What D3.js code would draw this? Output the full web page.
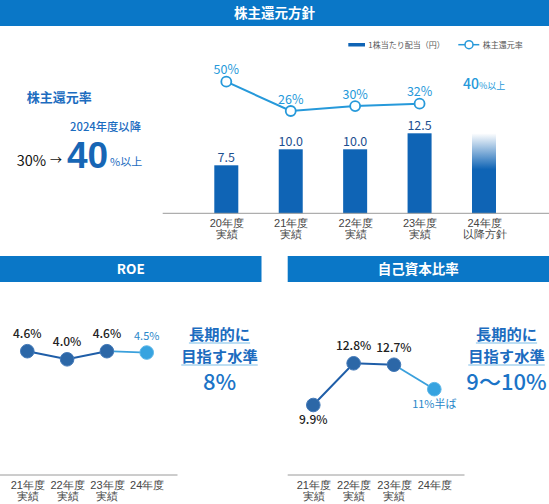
<!DOCTYPE html>
<html>
<head>
<meta charset="utf-8">
<script src="https://cdn.jsdelivr.net/npm/d3@7"></script>
<style>
body{margin:0;background:#fff;}
svg{display:block;font-family:"Noto Sans CJK JP","Noto Sans",sans-serif;}
</style>
</head>
<body>
<svg id="chart" width="549" height="504"></svg>
<script>
// data
const divYears = ["20年度", "21年度", "22年度", "23年度", "24年度"];
const divSub = ["実績", "実績", "実績", "実績", "以降方針"];
const divValues = [7.5, 10.0, 10.0, 12.5, 12.5];
const divLabels = ["7.5", "10.0", "10.0", "12.5", ""];
const payout = [50, 26, 30, 32];

const subYears = ["21年度", "22年度", "23年度", "24年度"];
const subSub = ["実績", "実績", "実績", ""];
const roeValues = [4.6, 4.0, 4.6, 4.5];
const roeLabels = ["4.6%", "4.0%", "4.6%", "4.5%"];
const equityValues = [9.9, 12.8, 12.7, 11.0];
const equityLabels = ["9.9%", "12.8%", "12.7%", "11%半ば"];

const svg = d3.select("#chart");

const banner = "#0a77c7";
const barBlue = "#0f64b5";
const lightBlue = "#2699da";
const textBlue = "#1c6cbf";

function drawBanner(x0, x1, y0, y1, label){
    svg.append("rect")
        .attr("x", x0).attr("y", y0)
        .attr("width", x1 - x0).attr("height", y1 - y0)
        .attr("fill", banner);
    svg.append("text")
        .attr("x", (x0 + x1) / 2).attr("y", (y0 + y1) / 2 + 5)
        .attr("text-anchor", "middle")
        .attr("fill", "#fff")
        .attr("font-size", 13.5)
        .attr("font-weight", "bold")
        .text(label);
}

drawBanner(0, 549, 0, 26, "株主還元方針");
drawBanner(0, 261.5, 256, 282, "ROE");
drawBanner(287.7, 549, 256, 282, "自己資本比率");

// two line tick labels
function twoLines(g, subs, gap){
    g.select(".domain").remove();
    g.selectAll(".tick text")
        .attr("fill", "#444")
        .attr("font-size", 11)
        .each(function(d, i){
            const t = d3.select(this);
            t.text(null);
            t.append("tspan").attr("x", 0).text(d);
            t.append("tspan").attr("x", 0).attr("dy", gap).text(subs[i]);
        });
}

// ---- dividend bars + payout line
const x = d3.scalePoint().domain(divYears).range([226.3, 484]);
const yBar = d3.scaleLinear().domain([0, 12.5]).range([213.3, 133.3]);
const yLine = d3.scaleLinear().domain([26, 50]).range([111, 81.7]);
const barW = 24;

const defs = svg.append("defs");
const grad = defs.append("linearGradient")
    .attr("id", "fade").attr("x1", 0).attr("y1", 0).attr("x2", 0).attr("y2", 1);
grad.append("stop").attr("offset", 0).attr("stop-color", barBlue).attr("stop-opacity", 0);
grad.append("stop").attr("offset", 0.45).attr("stop-color", barBlue).attr("stop-opacity", 1);
grad.append("stop").attr("offset", 1).attr("stop-color", barBlue).attr("stop-opacity", 1);

svg.selectAll("rect.bar")
    .data(divValues)
    .enter()
    .append("rect")
    .attr("class", "bar")
    .attr("x", (d, i) => x(divYears[i]) - barW / 2)
    .attr("y", d => yBar(d))
    .attr("width", barW)
    .attr("height", d => yBar(0) - yBar(d))
    .attr("fill", (d, i) => i === divValues.length - 1 ? "url(#fade)" : barBlue);

svg.selectAll("text.barlab")
    .data(divLabels)
    .enter()
    .append("text")
    .attr("class", "barlab")
    .attr("x", (d, i) => x(divYears[i]))
    .attr("y", (d, i) => yBar(divValues[i]) - 3)
    .attr("text-anchor", "middle")
    .attr("font-size", 12.5)
    .attr("fill", "#1d4f8f")
    .text(d => d);

svg.append("line")
    .attr("x1", 162.7).attr("x2", 549)
    .attr("y1", yBar(0)).attr("y2", yBar(0))
    .attr("stroke", "#9a9a9a").attr("stroke-width", 1);

svg.append("g")
    .attr("transform", `translate(0,${yBar(0)})`)
    .call(d3.axisBottom(x).tickSize(0).tickPadding(6))
    .call(g => twoLines(g, divSub, "0.98em"));

const line = d3.line()
    .x((d, i) => x(divYears[i]))
    .y(d => yLine(d));

svg.append("path")
    .datum(payout)
    .attr("d", line)
    .attr("fill", "none")
    .attr("stroke", lightBlue)
    .attr("stroke-width", 2);

svg.selectAll("circle.pay")
    .data(payout)
    .enter()
    .append("circle")
    .attr("class", "pay")
    .attr("cx", (d, i) => x(divYears[i]))
    .attr("cy", d => yLine(d))
    .attr("r", 5)
    .attr("fill", "#fff")
    .attr("stroke", lightBlue)
    .attr("stroke-width", 1.8);

svg.selectAll("text.pay")
    .data(payout)
    .enter()
    .append("text")
    .attr("class", "pay")
    .attr("x", (d, i) => x(divYears[i]))
    .attr("y", d => yLine(d) - 7.5)
    .attr("text-anchor", "middle")
    .attr("font-size", 12.5)
    .attr("fill", lightBlue)
    .text(d => d + "%");

const goal = svg.append("text")
    .attr("x", 463).attr("y", 89)
    .attr("fill", lightBlue);
goal.append("tspan").attr("font-size", 14).attr("font-weight", 500).text("40");
goal.append("tspan").attr("font-size", 9).text("%以上");

// legend
svg.append("rect")
    .attr("x", 348.3).attr("y", 43).attr("width", 16.7).attr("height", 3.5)
    .attr("fill", barBlue);
svg.append("text")
    .attr("x", 368.3).attr("y", 47.8)
    .attr("font-size", 8).attr("fill", "#555")
    .text("1株当たり配当（円）");
svg.append("line")
    .attr("x1", 458.3).attr("x2", 479.3).attr("y1", 44.7).attr("y2", 44.7)
    .attr("stroke", lightBlue).attr("stroke-width", 1.5);
svg.append("circle")
    .attr("cx", 469).attr("cy", 44.7).attr("r", 4)
    .attr("fill", "#fff").attr("stroke", lightBlue).attr("stroke-width", 1.5);
svg.append("text")
    .attr("x", 482.7).attr("y", 47.8)
    .attr("font-size", 8).attr("fill", "#555")
    .text("株主還元率");

// left headline block
svg.append("text")
    .attr("x", 26.7).attr("y", 102)
    .attr("font-size", 13).attr("font-weight", "bold").attr("fill", textBlue)
    .text("株主還元率");
svg.append("text")
    .attr("x", 70).attr("y", 130.5)
    .attr("font-size", 11.3).attr("font-weight", 500).attr("fill", textBlue)
    .text("2024年度以降");
svg.append("text")
    .attr("x", 16.7).attr("y", 165.5)
    .attr("font-size", 14.5).attr("fill", "#111")
    .text("30%");
svg.append("text")
    .attr("x", 50).attr("y", 164.5)
    .attr("font-size", 12).attr("fill", "#111")
    .text("→");
svg.append("text")
    .attr("x", 67).attr("y", 168.3)
    .attr("font-family", "'Liberation Sans', Arial, sans-serif")
    .attr("font-size", 37).attr("font-weight", "bold").attr("fill", "#1766b5")
    .text("40");
svg.append("text")
    .attr("x", 110).attr("y", 165.5)
    .attr("font-size", 11).attr("fill", textBlue)
    .text("%以上");

// ---- small line charts
function smallChart(opts){
    const sx = d3.scalePoint().domain(subYears).range(opts.xRange);
    const sy = d3.scaleLinear().domain(opts.domain).range(opts.yRange);
    const vals = opts.values;

    svg.append("line")
        .attr("x1", opts.axis[0]).attr("x2", opts.axis[1])
        .attr("y1", 475).attr("y2", 475)
        .attr("stroke", "#9a9a9a").attr("stroke-width", 1);

    svg.append("g")
        .attr("transform", "translate(0,475)")
        .call(d3.axisBottom(sx).tickSize(0).tickPadding(6))
        .call(g => twoLines(g, subSub, "1.03em"));

    const l = d3.line()
        .x(d => sx(subYears[d]))
        .y(d => sy(vals[d]));

    svg.append("path")
        .datum([0, 1, 2])
        .attr("d", l)
        .attr("fill", "none")
        .attr("stroke", "#1f5ea8")
        .attr("stroke-width", 2);
    svg.append("path")
        .datum([2, 3])
        .attr("d", l)
        .attr("fill", "none")
        .attr("stroke", "#3aa0dc")
        .attr("stroke-width", 1.8);

    svg.selectAll(null)
        .data(vals)
        .enter()
        .append("circle")
        .attr("cx", (d, i) => sx(subYears[i]))
        .attr("cy", d => sy(d))
        .attr("r", 6.8)
        .attr("fill", (d, i) => i === 3 ? "#37a3e0" : "#2c67a7")
        .attr("stroke", (d, i) => i === 3 ? "#5bb6e8" : "#4379b8")
        .attr("stroke-width", 1);

    svg.selectAll(null)
        .data(opts.labels)
        .enter()
        .append("text")
        .attr("x", (d, i) => sx(subYears[i]))
        .attr("y", (d, i) => sy(vals[i]) + (opts.below[i] ? 19 : -13))
        .attr("text-anchor", "middle")
        .attr("font-size", (d, i) => i === 3 ? 11 : 12)
        .attr("font-weight", (d, i) => i === 3 ? "normal" : 500)
        .attr("fill", (d, i) => i === 3 ? "#2a87c9" : "#222")
        .text(d => d);

    // target text
    const cx = opts.textX;
    const lines = ["長期的に", "目指す水準"];
    const ly = [339.5, 361.5];
    lines.forEach((t, i) => {
        const tx = svg.append("text")
            .attr("x", cx).attr("y", ly[i])
            .attr("text-anchor", "middle")
            .attr("font-size", 15.3).attr("font-weight", "bold")
            .attr("fill", textBlue)
            .text(t);
        const w = tx.node().getComputedTextLength();
        svg.append("line")
            .attr("x1", cx - w / 2).attr("x2", cx + w / 2)
            .attr("y1", ly[i] + 3.5).attr("y2", ly[i] + 3.5)
            .attr("stroke", "#7dbde8").attr("stroke-width", 1.2);
    });
    svg.append("text")
        .attr("x", cx).attr("y", 389.5)
        .attr("text-anchor", "middle")
        .attr("font-size", 22).attr("font-weight", 500)
        .attr("fill", "#1b74c7")
        .text(opts.target);
}

smallChart({
    values: roeValues, labels: roeLabels,
    domain: [4.0, 4.6], yRange: [359.3, 351.2],
    xRange: [27.3, 146.7], axis: [0, 177.5],
    below: [false, false, false, false],
    textX: 219.5, target: "8%"
});

smallChart({
    values: equityValues, labels: equityLabels,
    domain: [9.9, 12.8], yRange: [405, 363.3],
    xRange: [313.3, 434.3], axis: [287.7, 464.5],
    below: [true, false, false, true],
    textX: 506.5, target: "9〜10%"
});
</script>
</body>
</html>
